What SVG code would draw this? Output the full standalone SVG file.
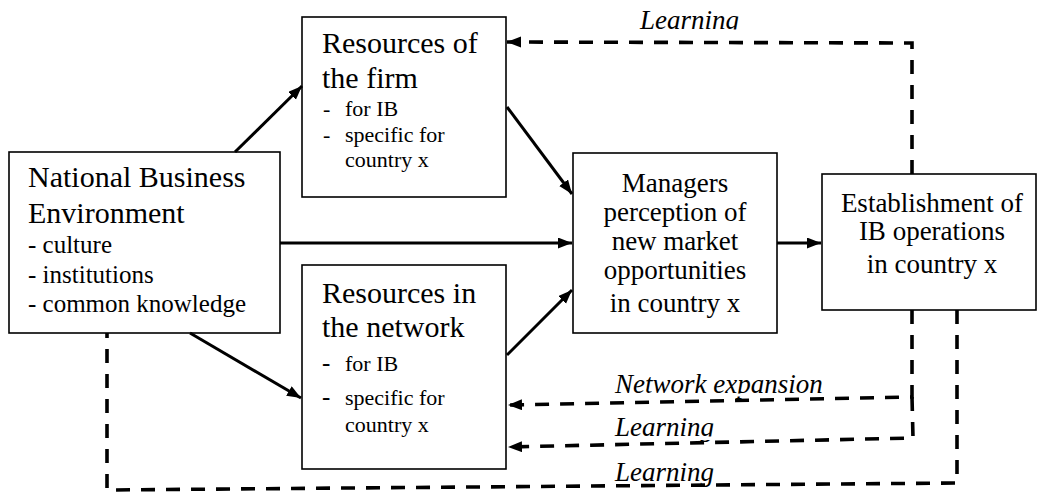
<svg xmlns="http://www.w3.org/2000/svg" width="1038" height="493" viewBox="0 0 1038 493">
<style>
.box{fill:#fff;stroke:#000;stroke-width:1.6}
.t{fill:#000}
.title{font-size:30px}
.sub{font-size:22px}
.mid{font-size:27px;text-anchor:middle}
.lab{font-style:italic;font-size:27px;fill:#000}
.solid{fill:none;stroke:#000;stroke-width:3;marker-end:url(#ah)}
.dash{fill:none;stroke:#000;stroke-width:3.6;stroke-dasharray:14 11}
.dasharr{marker-end:url(#ah)}
.mask{fill:#fff;stroke:none}
</style>
<defs>
<marker id="ah" markerUnits="userSpaceOnUse" markerWidth="16" markerHeight="12" refX="14" refY="5.5" orient="auto">
<path d="M0,0 L14,5.5 L0,11 z" fill="#000"/>
</marker>
</defs>

<g id="nbe">
<rect class="box" x="9" y="152" width="271" height="181"/>
<text class="t title" font-family="Liberation Serif" x="28" y="187">National Business</text>
<text class="t title" font-family="Liberation Serif" x="28" y="223">Environment</text>
<text class="t" font-family="Liberation Serif" font-size="25" x="28" y="253">- culture</text>
<text class="t" font-family="Liberation Serif" font-size="25" x="28" y="283">- institutions</text>
<text class="t" font-family="Liberation Serif" font-size="25" x="28" y="312">- common knowledge</text>
</g>

<g id="res-firm">
<rect class="box" x="302" y="17" width="204" height="180"/>
<text class="t title" font-family="Liberation Serif" x="322" y="53">Resources of</text>
<text class="t title" font-family="Liberation Serif" x="322" y="88">the firm</text>
<text class="t sub" font-family="Liberation Serif" x="323" y="116">-</text>
<text class="t sub" font-family="Liberation Serif" x="345" y="116">for IB</text>
<text class="t sub" font-family="Liberation Serif" x="323" y="142">-</text>
<text class="t sub" font-family="Liberation Serif" x="345" y="142">specific for</text>
<text class="t sub" font-family="Liberation Serif" x="345" y="167">country x</text>
</g>

<g id="res-network">
<rect class="box" x="302" y="265" width="204" height="204"/>
<text class="t title" font-family="Liberation Serif" x="322" y="303">Resources in</text>
<text class="t title" font-family="Liberation Serif" x="322" y="337">the network</text>
<text class="t" font-family="Liberation Serif" font-size="25" x="322" y="371">-</text>
<text class="t sub" font-family="Liberation Serif" x="345" y="371">for IB</text>
<text class="t" font-family="Liberation Serif" font-size="25" x="322" y="405">-</text>
<text class="t sub" font-family="Liberation Serif" x="345" y="405">specific for</text>
<text class="t sub" font-family="Liberation Serif" x="345" y="432">country x</text>
</g>

<g id="managers">
<rect class="box" x="573" y="153" width="204" height="180"/>
<text class="t mid" font-family="Liberation Serif" x="675" y="192">Managers</text>
<text class="t mid" font-family="Liberation Serif" x="675" y="221">perception of</text>
<text class="t mid" font-family="Liberation Serif" x="675" y="250">new market</text>
<text class="t mid" font-family="Liberation Serif" x="675" y="279">opportunities</text>
<text class="t mid" font-family="Liberation Serif" x="675" y="312">in country x</text>
</g>

<g id="establishment">
<rect class="box" x="822" y="174" width="214" height="136"/>
<text class="t mid" font-family="Liberation Serif" x="932" y="212">Establishment of</text>
<text class="t mid" font-family="Liberation Serif" x="932" y="240">IB operations</text>
<text class="t mid" font-family="Liberation Serif" x="932" y="273">in country x</text>
</g>

<g id="connectors">
<path class="solid" d="M235,152 L302,86"/>
<path class="solid" d="M507,107 L572,194"/>
<path class="solid" d="M280,243 L572,243"/>
<path class="solid" d="M190,333 L301,398"/>
<path class="solid" d="M507,355 L572,290"/>
<path class="solid" d="M777,243 L821,243"/>
<text class="lab" font-family="Liberation Serif" x="640" y="29">Learning</text>
<text class="lab" font-family="Liberation Serif" x="615" y="393">Network expansion</text>
<text class="lab" font-family="Liberation Serif" x="615" y="436">Learning</text>
<text class="lab" font-family="Liberation Serif" x="615" y="481">Learning</text>
<rect class="mask" x="630" y="29.5" width="130" height="8"/>
<rect class="mask" x="605" y="393.5" width="250" height="3"/>
<rect class="mask" x="605" y="436.5" width="130" height="3.5"/>
<path class="dash dasharr" d="M912,174 L912,43 L507,42"/>
<path class="dash dasharr" d="M912,310 L912,397 L508,405"/>
<path class="dash dasharr" d="M912,397 L913,438 L508,447"/>
<path class="dash" d="M957,310 L957,483 L107,490 L107,333"/>
</g>
</svg>
